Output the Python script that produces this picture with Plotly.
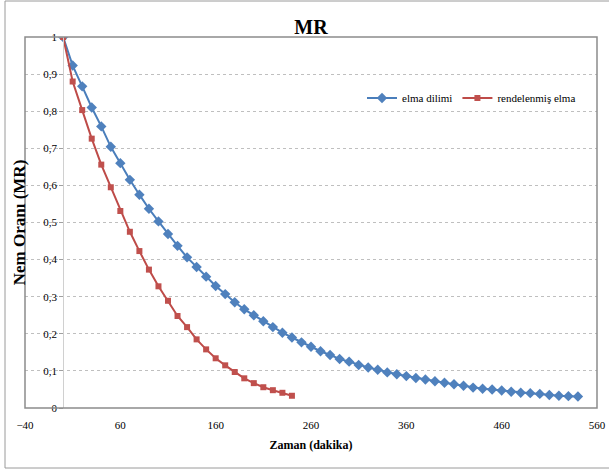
import plotly.graph_objects as go

# ---- data ----
time_elma_dilimi = list(range(0, 550, 10))
mr_elma_dilimi = [
    1.000, 0.923, 0.867, 0.810, 0.759, 0.704, 0.660, 0.615, 0.575, 0.537,
    0.503, 0.469, 0.437, 0.406, 0.380, 0.354, 0.329, 0.307, 0.285, 0.266,
    0.250, 0.234, 0.218, 0.203, 0.190, 0.177, 0.165, 0.153, 0.143, 0.132,
    0.125, 0.116, 0.109, 0.103, 0.096, 0.091, 0.086, 0.081, 0.077, 0.072,
    0.068, 0.064, 0.060, 0.055, 0.052, 0.050, 0.047, 0.044, 0.041, 0.040,
    0.038, 0.035, 0.033, 0.032, 0.031,
]
time_rendelenmis = list(range(0, 250, 10))
mr_rendelenmis = [
    1.000, 0.880, 0.803, 0.726, 0.656, 0.595, 0.531, 0.475, 0.423, 0.373,
    0.328, 0.289, 0.248, 0.218, 0.185, 0.158, 0.134, 0.115, 0.097, 0.080,
    0.067, 0.056, 0.048, 0.041, 0.033,
]
x_ticks = [-40, 60, 160, 260, 360, 460, 560]
y_ticks = [0, 0.1, 0.2, 0.3, 0.4, 0.5, 0.6, 0.7, 0.8, 0.9, 1]

FONT = "Liberation Serif"
BLUE_LINE, BLUE_MK = "#4A7EBB", "#4F81BD"
RED_LINE, RED_MK = "#BE4B48", "#C0504D"

fig = go.Figure()
fig.add_trace(go.Scatter(
    x=time_elma_dilimi, y=mr_elma_dilimi, name="elma dilimi",
    mode="lines+markers",
    line=dict(color=BLUE_LINE, width=2),
    marker=dict(symbol="diamond", size=8, color=BLUE_MK),
))
fig.add_trace(go.Scatter(
    x=time_rendelenmis, y=mr_rendelenmis, name="rendelenmiş elma",
    mode="lines+markers",
    line=dict(color=RED_LINE, width=2),
    marker=dict(symbol="square", size=6, color=RED_MK),
))

W, H = 609, 470
L, R, T, B = 25, 12, 37, 62
pw, ph = W - L - R, H - T - B

fig.update_layout(
    width=W, height=H,
    margin=dict(l=L, r=R, t=T, b=B, autoexpand=False),
    paper_bgcolor="white", plot_bgcolor="white",
    separators=",.",
    font=dict(family=FONT, size=11, color="#000000"),
    title=dict(text="<b>MR</b>", x=(311) / W, xanchor="center",
               y=1 - 27 / H, yanchor="middle",
               font=dict(family=FONT, size=20, color="#000000")),
    showlegend=True,
    legend=dict(orientation="h", x=(362 - L) / pw, xanchor="left",
                y=(408 - 98) / ph, yanchor="middle",
                bgcolor="rgba(0,0,0,0)", font=dict(family=FONT, size=11),
                itemwidth=30),
    xaxis=dict(
        range=[-40, 560], tickmode="array", tickvals=x_ticks,
        showgrid=False, zeroline=False, showline=False,
        ticks="", ticklabelstandoff=9,
        tickfont=dict(family=FONT, size=11),
        title=dict(text="<b>Zaman (dakika)</b>", standoff=10,
                   font=dict(family=FONT, size=12)),
    ),
    yaxis=dict(
        range=[0, 1], tickmode="array", tickvals=y_ticks,
        tickformat=".1~f",
        anchor="free", position=40 / 600,
        showgrid=True, gridcolor="#BFBFBF", griddash="dot", gridwidth=1,
        zeroline=False, showline=True, linecolor="#D0D0D0", linewidth=1,
        ticks="outside", ticklen=4, tickcolor="#A0A0A0",
        tickfont=dict(family=FONT, size=11),
        title=dict(text="<b>Nem Oranı (MR)</b>", standoff=12,
                   font=dict(family=FONT, size=17)),
    ),
    shapes=[
        dict(type="rect", xref="paper", yref="paper", x0=0, x1=1, y0=0, y1=1,
             line=dict(color="#8C8C8C", width=1.5), layer="above"),
        dict(type="rect", xref="paper", yref="paper",
             x0=(5 - L) / pw, x1=(W + 5 - L) / pw,
             y0=(408 - 468) / ph, y1=(408 - 1) / ph,
             line=dict(color="#9A9A9A", width=1), layer="below"),
    ],
)

fig.write_html("out.html",
               config={"displayModeBar": False},
               post_script="document.body.style.margin='0';"
                           "document.body.style.overflow='hidden';")
